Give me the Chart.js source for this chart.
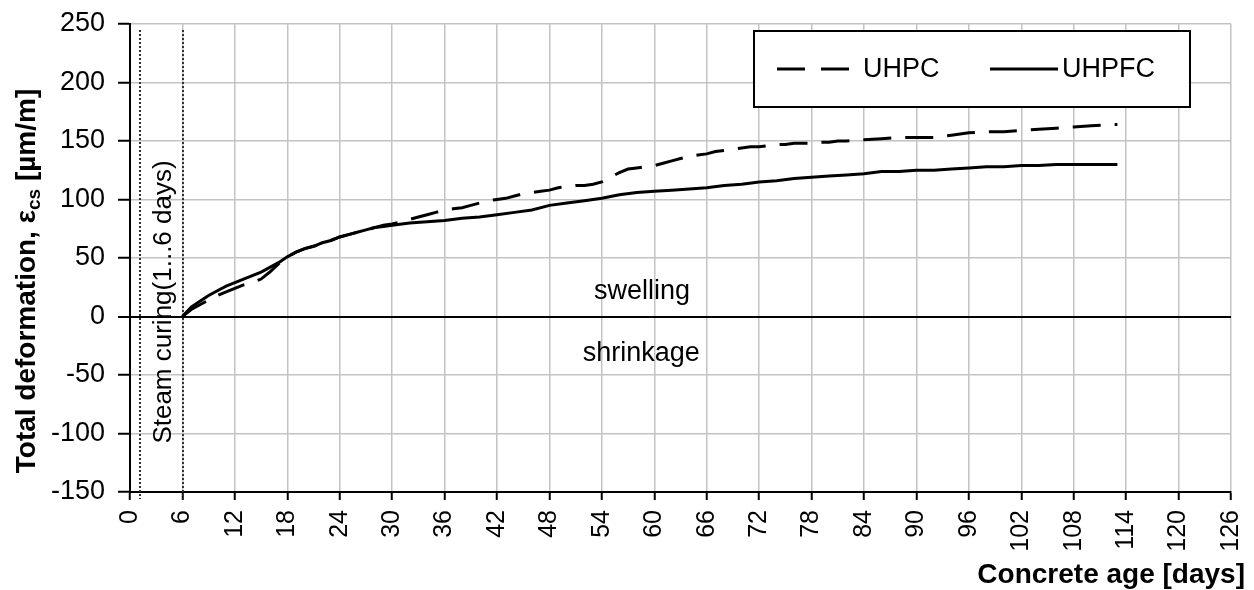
<!DOCTYPE html>
<html>
<head>
<meta charset="utf-8">
<script src="https://cdn.jsdelivr.net/npm/chart.js@4/dist/chart.umd.min.js"></script>
<style>
  html, body { margin: 0; padding: 0; background: #ffffff; }
  canvas { display: block; }
</style>
</head>
<body>
<canvas id="chart" width="1254" height="590"></canvas>
<script>
// Measured total deformation (µm/m) against concrete age (days)
const uhpcDays = [6, 7, 8, 9, 10, 11, 12, 13, 14, 15, 16, 17, 18, 19, 20, 21, 22, 23, 24, 25, 26, 27, 28, 29, 30,
  31, 32, 33, 34, 35, 36, 37, 38, 39, 40, 41, 42, 43, 44, 45, 46, 47, 48, 49, 50, 51, 52, 53, 54, 55, 56, 57, 58,
  59, 60, 61, 62, 63, 64, 65, 66, 67, 68, 69, 70, 71, 72, 73, 74, 75, 76, 77, 78, 79, 80, 81, 82, 84, 86, 88, 90,
  92, 94, 96, 98, 100, 102, 104, 106, 108, 110, 112, 113];
const uhpcStrain = [0, 6, 10, 14, 18, 21, 24, 27, 29, 32, 38, 45, 51, 55, 58, 60, 62, 65, 68, 70, 72, 74, 76, 78, 79,
  81, 83, 85, 87, 89, 91, 92, 93, 95, 97, 99, 100, 101, 103, 105, 106, 107, 108, 110, 111, 112, 112, 113, 115, 119, 123, 126, 127,
  128, 129, 131, 133, 135, 137, 138, 139, 141, 142, 143, 144, 145, 145, 146, 147, 147, 148, 148, 148, 149, 149, 150, 150, 151, 152, 153, 153,
  153, 155, 157, 158, 158, 159, 160, 161, 162, 163, 164, 164];

const uhpfcDays = [6, 7, 8, 9, 10, 11, 12, 13, 14, 15, 16, 17, 18, 19, 20, 21, 22, 23, 24, 25, 26, 27, 28, 29, 30,
  32, 34, 36, 38, 40, 42, 44, 46, 48, 50, 52, 54, 56, 58, 60, 62, 64, 66, 68, 70, 72, 74, 76, 78, 80, 82, 84, 86,
  88, 90, 92, 94, 96, 98, 100, 102, 104, 106, 108, 110, 113];
const uhpfcStrain = [0, 8, 13, 18, 22, 26, 29, 32, 35, 38, 42, 46, 51, 55, 58, 60, 63, 65, 68, 70, 72, 74, 76, 77, 78,
  80, 81, 82, 84, 85, 87, 89, 91, 95, 97, 99, 101, 104, 106, 107, 108, 109, 110, 112, 113, 115, 116, 118, 119, 120, 121, 122, 124,
  124, 125, 125, 126, 127, 128, 128, 129, 129, 130, 130, 130, 130];

const seriesNames = ['UHPC', 'UHPFC'];

// Axis ranges
const ageRange = { min: 0, max: 126, step: 6 };
const strainRange = { min: -150, max: 250, step: 50 };

// Steam curing period (days)
const curingStart = 1;
const curingEnd = 6;

const FONT = '"Liberation Sans", Arial, Helvetica, sans-serif';
const GRID = '#c3c3c3';

function toPoints(xs, ys) {
  return xs.map((x, i) => ({ x: x, y: ys[i] }));
}

// Extra drawing: curing markers, region labels, axis titles and the legend box
const decorations = {
  id: 'decorations',
  beforeDatasetsDraw(chart) {
    const { ctx, chartArea, scales } = chart;
    const x = scales.x, y = scales.y;
    ctx.save();
    // dotted boundaries of the steam curing period
    ctx.strokeStyle = '#333333';
    ctx.lineWidth = 2;
    ctx.setLineDash([2, 2]);
    [curingStart, curingEnd].forEach(d => {
      const px = Math.round(x.getPixelForValue(d)) + 1;
      ctx.beginPath();
      ctx.moveTo(px, chartArea.top + 6);
      ctx.lineTo(px, chartArea.bottom + 7);
      ctx.stroke();
    });
    ctx.setLineDash([]);

    // rotated curing label between the two dotted lines
    ctx.fillStyle = '#000000';
    ctx.font = '26px ' + FONT;
    ctx.textAlign = 'center';
    ctx.textBaseline = 'alphabetic';
    ctx.save();
    ctx.translate((x.getPixelForValue(curingStart) + x.getPixelForValue(curingEnd)) / 2 + 10, 302);
    ctx.rotate(-Math.PI / 2);
    ctx.fillText('Steam curing(1...6 days)', 0, 0);
    ctx.restore();

    // swelling / shrinkage labels either side of the zero line
    ctx.font = '27px ' + FONT;
    ctx.fillText('swelling', x.getPixelForValue(58.6), y.getPixelForValue(0) - 18);
    ctx.fillText('shrinkage', x.getPixelForValue(58.5), y.getPixelForValue(0) + 44);
    ctx.restore();
  },
  afterDraw(chart) {
    const { ctx } = chart;
    ctx.save();
    ctx.fillStyle = '#000000';

    // y axis title with subscript
    const big = 'bold 28px ' + FONT;
    const small = 'bold 19px ' + FONT;
    const parts = [
      { t: 'Total deformation, \u03b5', f: big, dy: 0 },
      { t: 'cs', f: small, dy: 5 },
      { t: ' [\u00b5m/m]', f: big, dy: 0 }
    ];
    let total = 0;
    parts.forEach(p => { ctx.font = p.f; p.w = ctx.measureText(p.t).width; total += p.w; });
    ctx.save();
    ctx.translate(35, 281);
    ctx.rotate(-Math.PI / 2);
    ctx.textAlign = 'left';
    ctx.textBaseline = 'alphabetic';
    let cx = -total / 2;
    parts.forEach(p => { ctx.font = p.f; ctx.fillText(p.t, cx, p.dy); cx += p.w; });
    ctx.restore();

    // x axis title
    ctx.font = big;
    ctx.textAlign = 'right';
    ctx.fillText('Concrete age [days]', 1245, 583);

    // legend box
    const bx = 754, by = 31, bw = 436, bh = 76;
    ctx.fillStyle = '#ffffff';
    ctx.fillRect(bx, by, bw, bh);
    ctx.strokeStyle = '#000000';
    ctx.lineWidth = 2;
    ctx.strokeRect(bx, by, bw, bh);

    const ly = 69;
    const items = [
      { x1: 777, x2: 849, tx: 863 },
      { x1: 990, x2: 1058, tx: 1062 }
    ];
    ctx.font = '27px ' + FONT;
    ctx.textAlign = 'left';
    ctx.textBaseline = 'middle';
    chart.data.datasets.forEach((ds, i) => {
      const it = items[i];
      ctx.strokeStyle = ds.borderColor;
      ctx.lineWidth = ds.borderWidth;
      ctx.setLineDash(ds.borderDash && ds.borderDash.length ? [28, 16] : []);
      ctx.beginPath();
      ctx.moveTo(it.x1, ly);
      ctx.lineTo(it.x2, ly);
      ctx.stroke();
      ctx.setLineDash([]);
      ctx.fillStyle = '#000000';
      ctx.fillText(ds.label, it.tx, ly + 1);
    });
    ctx.restore();
  }
};

new Chart(document.getElementById('chart'), {
  type: 'line',
  data: {
    datasets: [
      {
        label: seriesNames[0],
        data: toPoints(uhpcDays, uhpcStrain),
        borderColor: '#000000',
        borderWidth: 3,
        borderDash: [28, 14],
        pointRadius: 0,
        tension: 0,
        fill: false
      },
      {
        label: seriesNames[1],
        data: toPoints(uhpfcDays, uhpfcStrain),
        borderColor: '#000000',
        borderWidth: 3,
        pointRadius: 0,
        tension: 0,
        fill: false
      }
    ]
  },
  plugins: [decorations],
  options: {
    responsive: false,
    animation: false,
    devicePixelRatio: 1,
    layout: { padding: { left: 0, top: 24, right: 23, bottom: 0 } },
    plugins: {
      legend: { display: false },
      tooltip: { enabled: false }
    },
    scales: {
      x: {
        type: 'linear',
        min: ageRange.min,
        max: ageRange.max,
        afterFit(scale) {
          scale.height = 98;
          scale.paddingLeft = 0;
          scale.paddingRight = 0;
        },
        afterBuildTicks(scale) {
          const t = [];
          for (let v = ageRange.min; v <= ageRange.max; v += ageRange.step) t.push({ value: v });
          scale.ticks = t;
        },
        ticks: {
          autoSkip: false,
          minRotation: 90,
          maxRotation: 90,
          padding: 10,
          color: '#000000',
          font: { family: FONT, size: 25 }
        },
        grid: {
          color: GRID,
          lineWidth: 1.5,
          tickLength: 8,
          tickColor: '#000000',
          tickWidth: 2
        },
        border: { color: '#000000', width: 2 }
      },
      y: {
        type: 'linear',
        min: strainRange.min,
        max: strainRange.max,
        afterFit(scale) {
          scale.width = 130;
          scale.paddingTop = 0;
          scale.paddingBottom = 0;
        },
        ticks: {
          stepSize: strainRange.step,
          padding: 13,
          color: '#000000',
          font: { family: FONT, size: 27 }
        },
        grid: {
          color: (c) => (c.tick && c.tick.value === 0 ? '#000000' : GRID),
          lineWidth: (c) => (c.tick && c.tick.value === 0 ? 2 : 1.5),
          tickLength: 12,
          tickColor: '#000000',
          tickWidth: 2
        },
        border: { color: '#000000', width: 2 }
      }
    }
  }
});
</script>
</body>
</html>
